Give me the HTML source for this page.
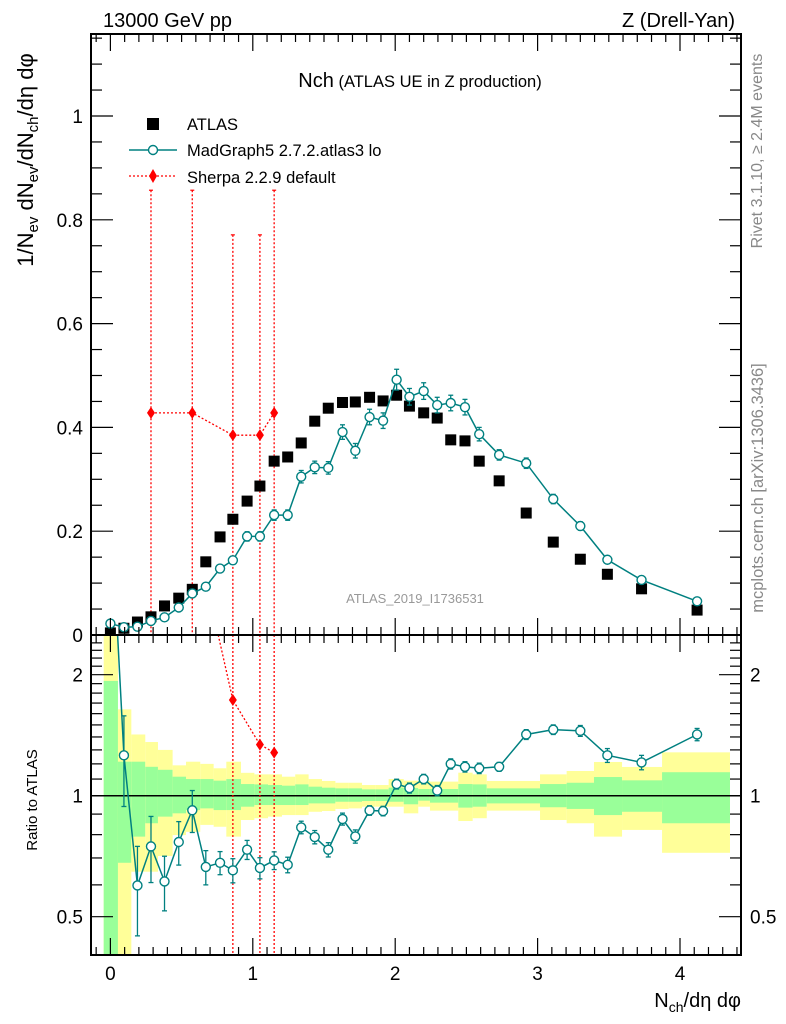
<!DOCTYPE html>
<html><head><meta charset="utf-8"><style>
html,body{margin:0;padding:0;background:#fff;width:786px;height:1024px;overflow:hidden;}
svg{display:block;font-family:"Liberation Sans",Arial,sans-serif;}
</style></head><body>
<svg id="chart" width="786" height="1024" viewBox="0 0 786 1024" xmlns="http://www.w3.org/2000/svg">
<defs>
<clipPath id="clipMain"><rect x="91" y="34" width="650" height="601"/></clipPath>
<clipPath id="clipRatio"><rect x="91" y="635" width="650" height="320"/></clipPath>
</defs>
<g id="bands" clip-path="url(#clipRatio)"></g>
<g id="mainMarks" clip-path="url(#clipMain)"></g>
<g id="ratioMarks" clip-path="url(#clipRatio)"></g>
<g id="axes"></g>

<text x="103" y="27" font-size="20">13000 GeV pp</text>
<text x="735" y="27" font-size="20" text-anchor="end">Z (Drell-Yan)</text>
<text x="420" y="87" text-anchor="middle"><tspan font-size="20">Nch</tspan><tspan font-size="16.5"> (ATLAS UE in Z production)</tspan></text>

<g>
<g>
<rect x="147" y="118" width="12" height="12" fill="#000"/>
<text x="187" y="130" font-size="16.5">ATLAS</text></g>
<g>
<line x1="129" y1="150" x2="177" y2="150" stroke="#008080" stroke-width="1.5"/>
<circle cx="153" cy="150" r="4.5" fill="#fff" stroke="#008080" stroke-width="1.4"/>
<text x="187" y="156" font-size="16.5">MadGraph5 2.7.2.atlas3 lo</text></g>
<g>
<line x1="129" y1="176" x2="177" y2="176" stroke="#f00" stroke-width="1.3" stroke-dasharray="2,2"/>
<polygon points="153,169 157,176 153,183 149,176" fill="#f00"/>
<text x="187" y="183" font-size="16.5">Sherpa 2.2.9 default</text></g>
</g>

<text x="415" y="603" font-size="13" fill="#999" text-anchor="middle">ATLAS_2019_I1736531</text>

<text transform="translate(33,160) rotate(-90)" text-anchor="middle" font-size="22">1/N<tspan font-size="15" dy="5">ev</tspan><tspan dy="-5"> dN</tspan><tspan font-size="15" dy="5">ev</tspan><tspan dy="-5">/dN</tspan><tspan font-size="15" dy="5">ch</tspan><tspan dy="-5">/dη dφ</tspan></text>
<text transform="translate(37,800) rotate(-90)" text-anchor="middle" font-size="15">Ratio to ATLAS</text>
<text transform="translate(762,151) rotate(-90)" text-anchor="middle" font-size="16" fill="#888">Rivet 3.1.10, ≥ 2.4M events</text>
<text transform="translate(763,488) rotate(-90)" text-anchor="middle" font-size="16.5" fill="#888">mcplots.cern.ch [arXiv:1306.3436]</text>
<text x="741" y="1007" text-anchor="end" font-size="20">N<tspan font-size="14" dy="5">ch</tspan><tspan dy="-5">/dη dφ</tspan></text>
</svg>
<script>
// ---- data ----
const xVals = [0.0,0.095,0.19,0.285,0.38,0.48,0.575,0.67,0.77,0.86,0.96,1.05,1.15,1.245,1.34,1.435,1.53,1.63,1.72,1.82,1.915,2.01,2.10,2.20,2.295,2.39,2.49,2.59,2.73,2.92,3.11,3.30,3.49,3.73,4.12];
const atlasVals = [0.004,0.013,0.025,0.035,0.056,0.071,0.088,0.141,0.189,0.223,0.258,0.287,0.335,0.343,0.37,0.412,0.437,0.448,0.449,0.458,0.451,0.462,0.441,0.428,0.418,0.376,0.374,0.335,0.297,0.235,0.179,0.146,0.117,0.089,0.048];
const mgVals = [0.022,0.015,0.016,0.027,0.034,0.053,0.080,0.093,0.128,0.144,0.190,0.190,0.231,0.231,0.305,0.323,0.322,0.391,0.355,0.420,0.413,0.492,0.459,0.470,0.443,0.447,0.439,0.387,0.347,0.331,0.262,0.210,0.145,0.106,0.065];
const mgErr = [0.003,0.003,0.004,0.004,0.004,0.005,0.006,0.006,0.007,0.008,0.009,0.009,0.010,0.010,0.012,0.012,0.012,0.014,0.014,0.015,0.015,0.020,0.016,0.016,0.015,0.015,0.015,0.013,0.010,0.010,0.009,0.008,0.006,0.005,0.006];
const mgRatio = [5.5,1.26,0.598,0.748,0.612,0.767,0.92,0.665,0.681,0.652,0.734,0.661,0.69,0.673,0.834,0.789,0.734,0.875,0.792,0.919,0.916,1.069,1.045,1.10,1.03,1.20,1.18,1.17,1.18,1.42,1.46,1.45,1.26,1.21,1.42];
const mgRatioErr = [0.5,0.32,0.15,0.14,0.095,0.095,0.11,0.065,0.045,0.045,0.04,0.04,0.035,0.03,0.03,0.03,0.03,0.03,0.03,0.025,0.025,0.03,0.03,0.03,0.03,0.035,0.035,0.035,0.03,0.04,0.04,0.045,0.05,0.05,0.05];
const sherpaX = [0.285,0.575,0.86,1.05,1.15];
const sherpaVals = [0.428,0.428,0.385,0.385,0.428];
const sherpaUp = [0.857,0.857,0.771,0.771,0.857];
const sherpaRatio = [12.2,4.86,1.73,1.34,1.28];
const bandEdges = [-0.047,0.053,0.147,0.245,0.334,0.437,0.531,0.631,0.725,0.814,0.917,1.011,1.107,1.205,1.298,1.392,1.486,1.580,1.673,1.767,1.860,1.954,2.060,2.162,2.244,2.443,2.544,2.643,3.017,3.204,3.396,3.593,3.874,4.351];
const yellowHi = [3.0,1.64,1.42,1.36,1.30,1.19,1.215,1.20,1.17,1.215,1.14,1.13,1.13,1.115,1.13,1.10,1.088,1.077,1.077,1.063,1.063,1.10,1.09,1.088,1.084,1.141,1.13,1.088,1.13,1.152,1.213,1.179,1.282];
const greenHi = [1.93,1.215,1.215,1.18,1.16,1.115,1.10,1.10,1.09,1.10,1.069,1.067,1.063,1.059,1.067,1.053,1.047,1.043,1.043,1.037,1.037,1.047,1.045,1.039,1.039,1.069,1.067,1.043,1.069,1.077,1.113,1.092,1.144];
const greenLo = [0.1,0.681,0.791,0.854,0.887,0.904,0.921,0.930,0.921,0.921,0.939,0.948,0.948,0.948,0.948,0.957,0.957,0.966,0.966,0.970,0.970,0.966,0.952,0.972,0.961,0.934,0.939,0.957,0.936,0.927,0.895,0.912,0.854];
const yellowLo = [0.1,0.1,0.647,0.647,0.708,0.798,0.813,0.846,0.837,0.791,0.870,0.879,0.887,0.895,0.895,0.912,0.916,0.927,0.930,0.939,0.939,0.939,0.904,0.939,0.918,0.865,0.879,0.918,0.870,0.854,0.791,0.822,0.721];
const mainYTicks = [0,0.2,0.4,0.6,0.8,1];
const mainYLabels = ["0","0.2","0.4","0.6","0.8","1"];
const xTicks = [0,1,2,3,4];
const xLabels = ["0","1","2","3","4"];
const ratioTicks = [0.5,1,2];
const ratioLabels = ["0.5","1","2"];

// ---- axes functions ----
const X = u => 110.4 + u*142.4;
const Y = v => 635 - v*519;
const R = r => 795.7 - 121*Math.log2(r);
const L = 91, RT = 741, T = 34, MB = 635, B = 955;
const NS = "http://www.w3.org/2000/svg";
function mk(parent, tag, attrs){ const e=document.createElementNS(NS,tag); for(const k in attrs) e.setAttribute(k,attrs[k]); parent.appendChild(e); return e; }
const gBands=document.getElementById('bands'), gMain=document.getElementById('mainMarks'), gRatio=document.getElementById('ratioMarks'), gAx=document.getElementById('axes');

// bands
for(let i=0;i<yellowHi.length;i++){
  const x1=X(bandEdges[i]), x2=X(bandEdges[i+1]);
  const y=mk(gBands,'rect',{x:x1,y:R(yellowHi[i]),width:x2-x1,height:R(yellowLo[i])-R(yellowHi[i]),fill:'#ffff99'});
  
  
  const g=mk(gBands,'rect',{x:x1,y:R(greenHi[i]),width:x2-x1,height:R(greenLo[i])-R(greenHi[i]),fill:'#99ff99'});
  
  
}
const one=mk(gRatio,'line',{x1:L,x2:RT,y1:R(1),y2:R(1),stroke:'#000','stroke-width':1.5});



// Sherpa main
const shM=mk(gMain,'polyline',{points:sherpaX.map((x,i)=>X(x)+','+Y(sherpaVals[i])).join(' '),fill:'none',stroke:'#f00','stroke-width':1.3,'stroke-dasharray':'2,2'});


sherpaX.forEach((x,i)=>{
  const l=mk(gMain,'line',{x1:X(x),x2:X(x),y1:Y(sherpaUp[i]),y2:Y(0)+5,stroke:'#f00','stroke-width':1.3,'stroke-dasharray':'2,2'});
  
  
  mk(gMain,'line',{x1:X(x)-2,x2:X(x)+2,y1:Y(sherpaUp[i]),y2:Y(sherpaUp[i]),stroke:'#f00','stroke-width':1.2});
  const cx=X(x), cy=Y(sherpaVals[i]);
  const d=mk(gMain,'polygon',{points:`${cx},${cy-6} ${cx+4},${cy} ${cx},${cy+6} ${cx-4},${cy}`,fill:'#f00'});
  
  
});
// Sherpa ratio
const shR=mk(gRatio,'polyline',{points:sherpaX.map((x,i)=>X(x)+','+R(sherpaRatio[i])).join(' '),fill:'none',stroke:'#f00','stroke-width':1.3,'stroke-dasharray':'2,2'});


sherpaX.forEach((x,i)=>{
  if(sherpaRatio[i]>2.5) return;
  const l=mk(gRatio,'line',{x1:X(x),x2:X(x),y1:MB,y2:B,stroke:'#f00','stroke-width':1.3,'stroke-dasharray':'2,2'});
  
  
  const cx=X(x), cy=R(sherpaRatio[i]);
  const d=mk(gRatio,'polygon',{points:`${cx},${cy-6} ${cx+4},${cy} ${cx},${cy+6} ${cx-4},${cy}`,fill:'#f00'});
  
  
});

// ATLAS squares
xVals.forEach((x,i)=>{
  const s=mk(gMain,'rect',{x:X(x)-5.5,y:Y(atlasVals[i])-5.5,width:11,height:11,fill:'#000'});
  
  
});

// MadGraph main
const mgL=mk(gMain,'polyline',{points:xVals.map((x,i)=>X(x)+','+Y(mgVals[i])).join(' '),fill:'none',stroke:'#008080','stroke-width':1.5});


xVals.forEach((x,i)=>{
  const cx=X(x), y1=Y(mgVals[i]+mgErr[i]), y2=Y(mgVals[i]-mgErr[i]);
  if(y2-y1>8){ mk(gMain,'line',{x1:cx,x2:cx,y1:y1,y2:y2,stroke:'#008080','stroke-width':1.3});
    mk(gMain,'line',{x1:cx-2.5,x2:cx+2.5,y1:y1,y2:y1,stroke:'#008080','stroke-width':1.3});
    mk(gMain,'line',{x1:cx-2.5,x2:cx+2.5,y1:y2,y2:y2,stroke:'#008080','stroke-width':1.3}); }
  const c=mk(gMain,'circle',{cx:cx,cy:Y(mgVals[i]),r:4.5,fill:'#fff',stroke:'#008080','stroke-width':1.4});
  
  
});
// MadGraph ratio
const mgRL=mk(gRatio,'polyline',{points:xVals.map((x,i)=>X(x)+','+R(mgRatio[i])).join(' '),fill:'none',stroke:'#008080','stroke-width':1.5});


xVals.forEach((x,i)=>{
  const cx=X(x), y1=R(mgRatio[i]+mgRatioErr[i]), y2=R(Math.max(0.05,mgRatio[i]-mgRatioErr[i]));
  mk(gRatio,'line',{x1:cx,x2:cx,y1:y1,y2:y2,stroke:'#008080','stroke-width':1.3});
  mk(gRatio,'line',{x1:cx-2.5,x2:cx+2.5,y1:y1,y2:y1,stroke:'#008080','stroke-width':1.3});
  mk(gRatio,'line',{x1:cx-2.5,x2:cx+2.5,y1:y2,y2:y2,stroke:'#008080','stroke-width':1.3});
  const c=mk(gRatio,'circle',{cx:cx,cy:R(mgRatio[i]),r:4.5,fill:'#fff',stroke:'#008080','stroke-width':1.4});
  
  
});

// frames
const f1=mk(gAx,'rect',{x:L,y:T,width:RT-L,height:MB-T,fill:'none',stroke:'#000','stroke-width':2});


const f2=mk(gAx,'rect',{x:L,y:MB,width:RT-L,height:B-MB,fill:'none',stroke:'#000','stroke-width':2});


function tk(x1,y1,x2,y2){ mk(gAx,'line',{x1,y1,x2,y2,stroke:'#000','stroke-width':1.2}); }
// main y ticks
for(let k=0;k<=23;k++){ const v=k*0.05; const y=Y(v); if(y<T) break; const maj=(k%4===0); const len=maj?22:11; tk(L,y,L+len,y); tk(RT,y,RT-len,y); }
mainYTicks.forEach((v,i)=>{ const t=mk(gAx,'text',{x:83,y:Y(v)+7,'font-size':19,'text-anchor':'end'}); t.textContent=mainYLabels[i];
    });
// x ticks (minor 0.1)
for(let k=-1;k<=44;k++){ const u=k*0.1; const x=X(u); if(x<L||x>RT) continue; const maj=(k%10===0); const len=maj?17:8;
  tk(x,MB,x,MB-len); tk(x,T,x,T+len); tk(x,B,x,B-len); tk(x,MB,x,MB+len); }
xTicks.forEach((u,i)=>{ const t=mk(gAx,'text',{x:X(u),y:980,'font-size':19,'text-anchor':'middle'}); t.textContent=xLabels[i];
    });
// ratio y ticks (log)
const minor=[0.5,0.6,0.7,0.8,0.9,1,1.1,1.2,1.3,1.4,1.5,1.6,1.7,1.8,1.9,2,2.1,2.2,2.3,2.4];
minor.forEach(r=>{ const y=R(r); if(y<MB||y>B) return; const maj=ratioTicks.includes(r); const len=maj?22:11; tk(L,y,L+len,y); tk(RT,y,RT-len,y); });
ratioTicks.forEach((r,i)=>{
  const t=mk(gAx,'text',{x:83,y:R(r)+7,'font-size':19,'text-anchor':'end'}); t.textContent=ratioLabels[i];
   
  const t2=mk(gAx,'text',{x:750,y:R(r)+7,'font-size':19,'text-anchor':'start'}); t2.textContent=ratioLabels[i];
   
});
</script>
</body></html>
